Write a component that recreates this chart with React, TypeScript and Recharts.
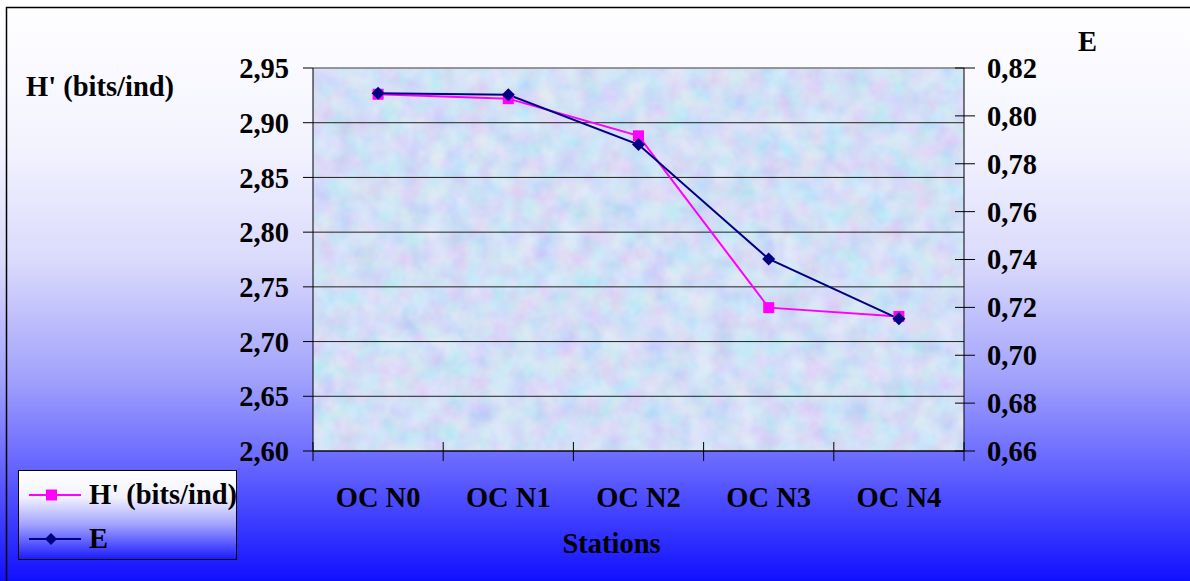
import React from 'react'
import { LineChart, Line, XAxis, YAxis, CartesianGrid, ReferenceLine, Legend } from 'recharts'

const stations = ['OC N0', 'OC N1', 'OC N2', 'OC N3', 'OC N4']
const shannon = [2.926, 2.922, 2.888, 2.731, 2.723]
const evenness = [0.8095, 0.8088, 0.788, 0.7402, 0.7152]
const hTicks = [2.6, 2.65, 2.7, 2.75, 2.8, 2.85, 2.9, 2.95]
const eTicks = [0.66, 0.68, 0.7, 0.72, 0.74, 0.76, 0.78, 0.8, 0.82]
const legendOrder = ['h', 'e']

const W = 1190
const H = 581
const LEFT_W = 313
const RIGHT_W = 226
const TOP = 68
const X_H = 130
const PLOT_W = W - LEFT_W - RIGHT_W
const BAND = PLOT_W / stations.length
const SERIF = "'Liberation Serif', 'Times New Roman', serif"
const FS = 28.5

const data = stations.map((s, i) => ({ station: s, h: shannon[i], e: evenness[i] }))
const comma = (d: number) => (v: number) => v.toFixed(d).replace('.', ',')

const textStyle = { fill: '#000', fontSize: FS, fontWeight: 'bold' as const, fontFamily: SERIF }

function SquareDot({ cx, cy }: any) {
  if (cx == null || cy == null) return null
  return <rect x={cx - 5.5} y={cy - 5.5} width={11} height={11} fill="#ff00ff" />
}

function DiamondDot({ cx, cy }: any) {
  if (cx == null || cy == null) return null
  return <polygon points={`${cx},${cy - 6.5} ${cx + 6.5},${cy} ${cx},${cy + 6.5} ${cx - 6.5},${cy}`} fill="#000080" />
}

// right axis ticks cross the axis line
function RightTick({ x, y, payload }: any) {
  const ax = x - 23
  return (
    <g>
      <line x1={ax - 9} x2={ax + 11} y1={y} y2={y} stroke="#000" />
      <text x={x} y={y} dy="0.35em" textAnchor="start" {...textStyle}>{comma(2)(payload.value)}</text>
    </g>
  )
}

// category labels centered, tick marks on the band edges
function StationTick({ x, y, payload, index }: any) {
  const ay = y - 10
  return (
    <g>
      {index === 0 && <line x1={x - BAND / 2} x2={x - BAND / 2} y1={ay - 9} y2={ay + 10} stroke="#000" />}
      <line x1={x + BAND / 2} x2={x + BAND / 2} y1={ay - 9} y2={ay + 10} stroke="#000" />
      <text x={x} y={ay + 56} textAnchor="middle" {...textStyle}>{payload.value}</text>
    </g>
  )
}

function LegendBox({ payload }: any) {
  const rows = [...(payload || [])].sort(
    (a: any, b: any) => legendOrder.indexOf(a.dataKey) - legendOrder.indexOf(b.dataKey)
  )
  return (
    <svg width={219} height={90} style={{ display: 'block' }}>
      <defs>
        <linearGradient id="legendFill" x1="0" y1="0" x2="0" y2="1">
          <stop offset="0" stopColor="#ffffff" />
          <stop offset="0.3" stopColor="#f2f2ff" />
          <stop offset="0.6" stopColor="#a4a4ff" />
          <stop offset="1" stopColor="#1a1aff" />
        </linearGradient>
      </defs>
      <rect x={0.5} y={0.5} width={218} height={89} fill="url(#legendFill)" stroke="#000" />
      {rows.map((entry: any, i: number) => {
        const cy = 25 + i * 44
        const diamond = entry.dataKey === 'e'
        return (
          <g key={entry.value}>
            <line x1={11} x2={63} y1={cy} y2={cy} stroke={entry.color} strokeWidth={2} />
            {diamond ? (
              <polygon points={`33,${cy - 6} 39,${cy} 33,${cy + 6} 27,${cy}`} fill={entry.color} />
            ) : (
              <rect x={28} y={cy - 5.5} width={11} height={11} fill={entry.color} />
            )}
            <text x={71} y={cy + 9} {...textStyle}>{entry.value}</text>
          </g>
        )
      })}
    </svg>
  )
}

export default function App() {
  return (
    <div style={{ position: 'absolute', left: 0, top: 0, width: W, height: H, overflow: 'hidden' }}>
      <svg width={W} height={H} style={{ position: 'absolute', left: 0, top: 0 }}>
        <defs>
          <linearGradient id="pageFill" x1="0" y1="0" x2="0" y2="1">
            <stop offset="0" stopColor="#ffffff" />
            <stop offset="0.25" stopColor="#f3f3ff" />
            <stop offset="0.45" stopColor="#dadafc" />
            <stop offset="0.65" stopColor="#a2a2fc" />
            <stop offset="0.8" stopColor="#6666ff" />
            <stop offset="1" stopColor="#1010ff" />
          </linearGradient>
          <filter id="mottle" x="0" y="0" width="100%" height="100%">
            <feTurbulence type="fractalNoise" baseFrequency="0.045" numOctaves="3" seed="7" />
            <feColorMatrix
              type="matrix"
              values="1.1 0 0 0 0.15  0 0.9 0 0 0.35  0 0 0.4 0 0.7  0 0 0 0 0.4"
            />
          </filter>
          <pattern id="paper" patternUnits="userSpaceOnUse" x={LEFT_W} y={TOP} width={PLOT_W} height={H - TOP - X_H}>
            <rect width={PLOT_W} height={H - TOP - X_H} fill="#cddaf8" />
            <rect width={PLOT_W} height={H - TOP - X_H} fill="#fff" filter="url(#mottle)" />
          </pattern>
        </defs>
        <rect x={0} y={0} width={W} height={H} fill="url(#pageFill)" />
        <rect x={6.5} y={7.5} width={W + 20} height={H + 20} fill="none" stroke="#000" strokeWidth={1.5} />
      </svg>
      <div style={{ position: 'absolute', left: 0, top: 0 }}>
        <LineChart width={W} height={H} data={data} margin={{ top: TOP, right: 0, bottom: 0, left: 0 }}>
          <CartesianGrid yAxisId="left" vertical={false} stroke="#222" fill="url(#paper)" fillOpacity={1} />
          <XAxis
            dataKey="station"
            height={X_H}
            padding={{ left: BAND / 2, right: BAND / 2 }}
            tickSize={10}
            tickMargin={0}
            tickLine={false}
            axisLine={{ stroke: '#000' }}
            tick={<StationTick />}
            interval={0}
            label={{ value: 'Stations', position: 'insideBottom', offset: 28, dx: -27, ...textStyle }}
          />
          <YAxis
            yAxisId="left"
            width={LEFT_W}
            domain={[2.6, 2.95]}
            ticks={hTicks}
            interval={0}
            tickFormatter={comma(2)}
            tickSize={10}
            tickMargin={14}
            tickLine={{ stroke: '#000' }}
            axisLine={{ stroke: '#000' }}
            tick={textStyle}
            label={{
              content: ({ viewBox }: any) => (
                <text x={viewBox.x + 26} y={viewBox.y + 28} {...textStyle}>H' (bits/ind)</text>
              ),
            }}
          />
          <YAxis
            yAxisId="right"
            orientation="right"
            width={RIGHT_W}
            domain={[0.66, 0.82]}
            ticks={eTicks}
            interval={0}
            tickSize={11}
            tickMargin={12}
            tickLine={false}
            axisLine={{ stroke: '#000' }}
            tick={<RightTick />}
            label={{
              content: ({ viewBox }: any) => (
                <text x={viewBox.x + 114} y={viewBox.y - 17} {...textStyle}>E</text>
              ),
            }}
          />
          <ReferenceLine yAxisId="left" y={2.95} stroke="#9a9a9a" strokeWidth={1.5} />
          <Legend
            layout="vertical"
            align="center"
            verticalAlign="middle"
            content={<LegendBox />}
            wrapperStyle={{ left: 18, top: 470, width: 219, height: 90 }}
          />
          <Line
            yAxisId="left"
            dataKey="h"
            name="H' (bits/ind)"
            stroke="#ff00ff"
            strokeWidth={2}
            dot={<SquareDot />}
            activeDot={false}
            isAnimationActive={false}
          />
          <Line
            yAxisId="right"
            dataKey="e"
            name="E"
            stroke="#000080"
            strokeWidth={2}
            dot={<DiamondDot />}
            activeDot={false}
            isAnimationActive={false}
          />
        </LineChart>
      </div>
    </div>
  )
}
